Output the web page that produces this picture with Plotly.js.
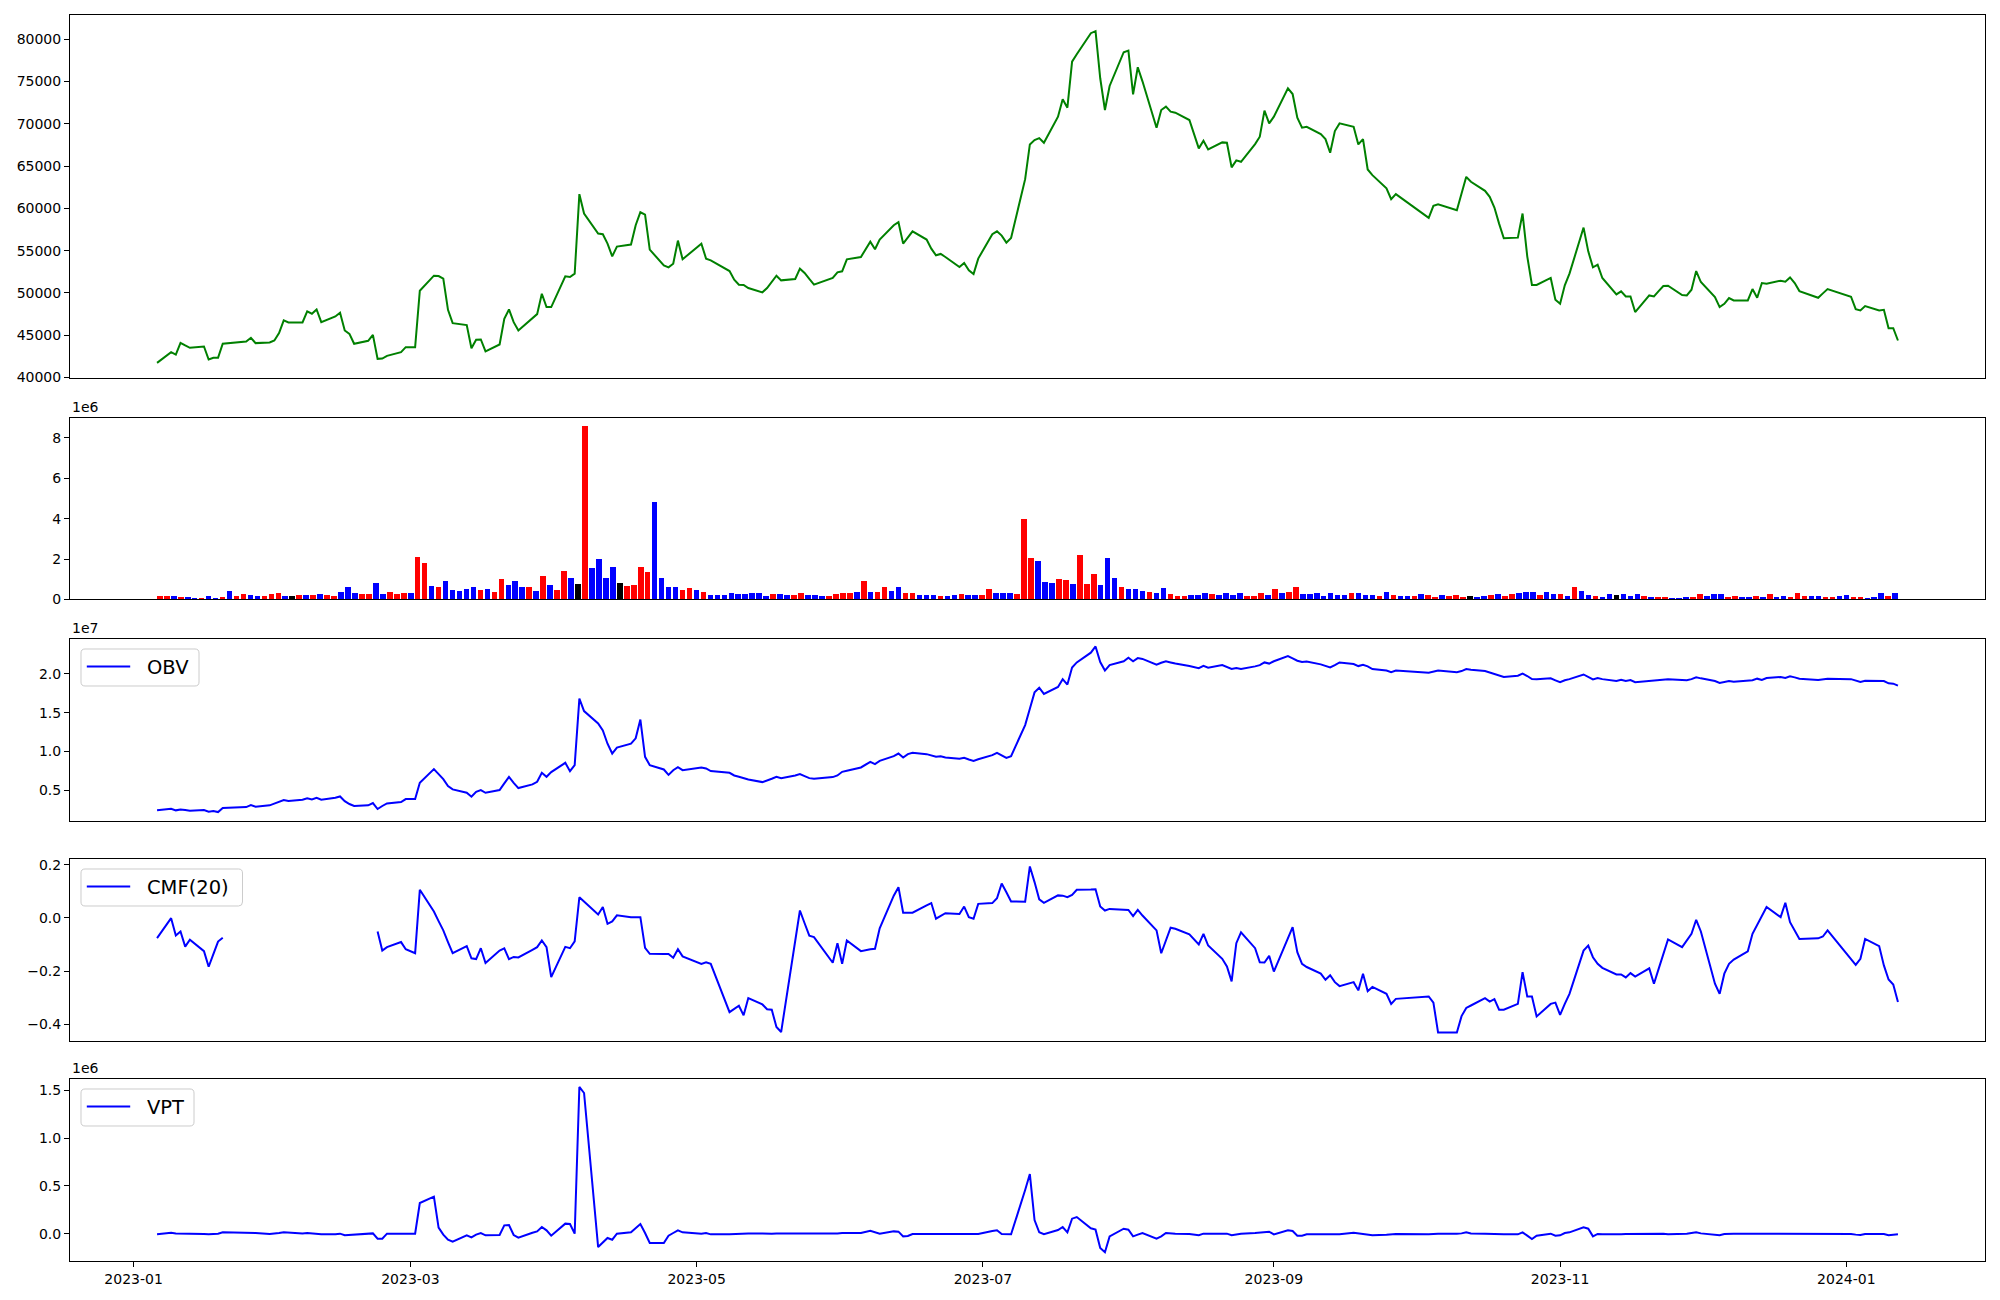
<!DOCTYPE html>
<html>
<head>
<meta charset="utf-8">
<script src="https://cdn.plot.ly/plotly-3.0.1.min.js"></script>
<style>html,body{margin:0;padding:0;background:#fff}#chart{width:2000px;height:1300px}</style>
</head>
<body>
<div id="chart"></div>
<script>
// Trading calendar (KRX): weekdays between first and last session, minus market holidays
const firstSession = "2023-01-06";
const lastSession = "2024-01-12";
const marketHolidays = ["2023-01-23","2023-01-24","2023-03-01","2023-05-01","2023-05-05","2023-05-29",
  "2023-06-06","2023-08-15","2023-09-28","2023-09-29","2023-10-02","2023-10-03","2023-10-09",
  "2023-12-25","2023-12-29","2024-01-01"];

// Close price
const closePrice = [
41730,43000,42720,44100,43790,43510,43670,42130,42330,42330,43990,
44260,44700,44070,44140,44380,
45250,46750,46510,46510,47820,47540,48050,46550,47220,47660,45560,45170,43990,44340,45050,42210,42250,42560,43000,43590,
43590,50260,52040,52000,51690,48010,46430,46200,43470,44460,44500,43080,43910,46950,48050,46550,45560,47060,47500,49910,48330,48330,
51960,51880,52280,61680,59390,57020,56940,55830,54330,55480,55720,58000,59540,59270,55120,53260,53030,53460,56190,53980,
55830,54060,53860,52590,51570,50980,50940,50580,50070,50580,51290,52040,51490,51650,52870,52360,51650,50980,51770,52440,
52560,53980,54250,56070,55160,56310,58000,58360,55830,56620,57290,56310,55240,54450,54610,54250,53070,53540,52670,52240,54060,
56940,57290,56780,55950,56500,63450,67560,68070,68310,67760,70840,72890,71900,77350,78220,80710,80950,75380,71630,74470,78460,
78660,73480,76680,75020,69540,71630,72020,71430,71310,70440,67090,67990,66970,67800,67760,64840,65670,65510,67600,68470,71550,70050,
70840,74200,73520,70720,69540,69650,68780,68190,66570,69140,70050,69650,67560,68190,64600,63930,62380,61090,61680,
58870,60290,60490,59780,61760,63730,63140,62070,61360,60100,58200,56460,56540,59390,54330,50940,50940,51770,49200,
48720,50900,52280,57730,54920,53030,53340,51770,49830,50190,49590,49590,47740,49710,49590,50220,50820,50860,49750,49710,50380,52590,
51290,49510,48330,48720,49400,49120,49120,50460,49430,51170,51090,51450,51330,51840,51170,50220,49430,49950,50460,
49550,48090,47930,48450,47930,48010,45840,45840,44380];

// Volume (x1e6)
const volumeM = [
0.165,0.165,0.165,0.115,0.115,0.066,0.066,0.165,0.066,0.115,0.41,
0.165,0.264,0.215,0.165,0.165,
0.264,0.31,0.165,0.165,0.215,0.215,0.215,0.264,0.215,0.165,0.36,0.61,0.31,0.264,0.264,0.81,0.264,0.36,0.264,0.31,
0.31,2.10,1.80,0.66,0.61,0.91,0.46,0.41,0.51,0.61,0.46,0.51,0.36,1.01,0.71,0.91,0.61,0.61,0.41,1.16,0.71,0.46,
1.40,1.06,0.76,8.58,1.55,2.0,1.06,1.60,0.81,0.66,0.71,1.60,1.35,4.82,1.06,0.61,0.61,0.46,0.56,0.46,
0.36,0.215,0.215,0.215,0.31,0.26,0.26,0.31,0.31,0.165,0.26,0.26,0.21,0.21,0.31,0.21,0.21,0.165,0.165,0.26,
0.31,0.31,0.36,0.91,0.36,0.36,0.61,0.41,0.61,0.31,0.31,0.21,0.21,0.21,0.165,0.165,0.21,0.26,0.21,0.21,0.21,
0.51,0.31,0.31,0.31,0.26,3.98,2.05,1.90,0.86,0.81,1.01,0.96,0.76,2.19,0.76,1.25,0.71,2.05,1.06,0.61,0.51,
0.51,0.41,0.36,0.31,0.56,0.26,0.165,0.165,0.21,0.21,0.31,0.26,0.21,0.31,0.21,0.31,0.165,0.165,0.31,0.21,0.51,0.31,
0.36,0.61,0.26,0.26,0.31,0.165,0.31,0.21,0.21,0.31,0.31,0.21,0.21,0.165,0.36,0.21,0.165,0.165,0.165,
0.26,0.21,0.115,0.21,0.165,0.21,0.115,0.165,0.115,0.165,0.21,0.26,0.165,0.26,0.31,0.36,0.36,0.21,0.36,
0.26,0.26,0.165,0.61,0.41,0.21,0.165,0.115,0.26,0.21,0.26,0.165,0.26,0.165,0.115,0.115,0.115,0.066,0.066,0.115,0.115,0.26,
0.165,0.26,0.26,0.115,0.165,0.115,0.115,0.165,0.115,0.26,0.115,0.165,0.115,0.31,0.165,0.165,0.165,0.115,0.115,
0.165,0.21,0.115,0.115,0.066,0.115,0.31,0.165,0.31];

// Candle direction per session: 1 = up (red), -1 = down (blue), 0 = unchanged (black)
const candleDir = [
1,1,-1,1,-1,-1,1,-1,-1,1,-1,
1,1,-1,-1,1,
1,1,-1,0,1,-1,1,-1,1,1,-1,-1,-1,1,1,-1,-1,1,1,1,
-1,1,1,-1,1,-1,-1,-1,-1,-1,1,-1,1,1,-1,-1,-1,1,-1,1,-1,1,
1,-1,0,1,-1,-1,-1,-1,0,1,1,1,1,-1,-1,-1,-1,1,1,-1,
1,-1,-1,-1,-1,-1,-1,-1,-1,-1,1,-1,-1,1,1,-1,-1,-1,1,1,
1,1,-1,1,-1,1,1,-1,-1,1,1,-1,-1,-1,1,-1,-1,1,-1,-1,1,
1,-1,-1,-1,1,1,1,-1,-1,-1,1,1,-1,1,1,1,-1,-1,-1,1,-1,
-1,-1,1,-1,-1,1,1,1,-1,-1,-1,1,-1,-1,-1,-1,1,1,1,-1,1,-1,
1,1,-1,-1,-1,-1,-1,-1,-1,1,-1,-1,-1,1,-1,1,-1,-1,1,
-1,1,1,-1,1,1,1,0,-1,-1,1,-1,1,1,-1,-1,-1,1,-1,
-1,1,-1,1,-1,-1,1,-1,-1,0,-1,-1,-1,1,-1,1,1,-1,-1,-1,1,1,
-1,-1,-1,1,1,-1,-1,1,-1,1,-1,-1,1,1,1,-1,-1,1,1,
-1,-1,1,1,-1,-1,-1,1,-1];

// On-Balance Volume (x1e7)
const obvE7 = [
0.244,0.265,0.244,0.256,0.248,0.239,0.248,0.226,0.235,0.222,0.274,
0.286,0.312,0.291,0.308,0.333,
0.35,0.376,0.363,0.38,0.40,0.385,0.406,0.38,0.406,0.423,0.363,0.325,0.30,0.308,0.338,0.261,0.30,0.333,0.35,0.389,
0.389,0.598,0.774,0.709,0.645,0.556,0.513,0.47,0.419,0.483,0.504,0.47,0.504,0.59,0.675,0.598,0.53,0.577,0.611,0.726,0.675,0.735,
0.855,0.748,0.825,1.68,1.52,1.36,1.27,1.10,0.974,1.05,1.10,1.17,1.41,0.932,0.825,0.769,0.70,0.76,0.80,0.76,
0.795,0.782,0.748,0.726,0.692,0.675,0.658,0.641,0.607,0.624,0.65,0.675,0.658,0.692,0.709,0.684,0.658,0.65,0.671,0.692,
0.739,0.752,0.795,0.868,0.838,0.88,0.94,0.974,0.923,0.966,0.983,0.966,0.949,0.932,0.94,0.923,0.906,0.919,0.897,0.88,0.90,
0.953,0.983,0.951,0.917,0.94,1.34,1.55,1.76,1.82,1.74,1.83,1.93,1.86,2.08,2.145,2.27,2.35,2.15,2.04,2.11,2.16,
2.205,2.16,2.20,2.19,2.115,2.14,2.16,2.145,2.13,2.10,2.07,2.10,2.077,2.11,2.09,2.06,2.073,2.06,2.094,2.11,2.145,2.13,
2.16,2.226,2.197,2.167,2.15,2.158,2.12,2.10,2.08,2.11,2.145,2.124,2.098,2.115,2.094,2.06,2.04,2.02,2.04,
2.013,2.026,2.04,2.02,2.034,2.06,2.05,2.034,2.017,1.996,1.98,1.957,1.974,2.0,1.97,1.93,1.927,1.94,1.915,
1.89,1.915,1.93,1.99,1.957,1.927,1.944,1.93,1.906,1.923,1.906,1.919,1.89,1.906,1.91,1.91,1.919,1.927,1.919,1.915,1.93,1.953,
1.94,1.906,1.88,1.893,1.906,1.897,1.91,1.915,1.936,1.919,1.944,1.957,1.944,1.966,1.953,1.936,1.919,1.927,1.936,
1.93,1.91,1.893,1.91,1.91,1.906,1.876,1.872,1.846];

// Chaikin Money Flow, 20 sessions (null = not defined)
const cmf20 = [
-0.076,-0.001,-0.066,-0.051,-0.108,-0.082,-0.125,-0.184,-0.136,-0.089,-0.075,
null,null,null,null,null,
null,null,null,null,null,null,null,null,null,null,null,null,null,null,null,-0.051,-0.123,-0.11,-0.091,-0.118,
-0.133,0.106,0.024,-0.012,-0.047,-0.091,-0.133,-0.106,-0.152,-0.155,-0.114,-0.17,-0.123,-0.115,-0.155,-0.147,-0.149,-0.12,-0.11,-0.085,-0.11,-0.223,
-0.109,-0.114,-0.088,0.078,0.062,0.013,0.041,-0.022,-0.013,0.01,0.003,0.003,0.003,-0.113,-0.135,-0.136,-0.136,-0.15,-0.118,-0.145,
-0.173,-0.167,-0.173,-0.355,-0.342,-0.331,-0.367,-0.302,-0.326,-0.344,-0.346,-0.411,-0.43,-0.087,0.028,-0.02,-0.067,-0.072,-0.169,-0.095,
-0.173,-0.085,-0.125,-0.118,-0.116,-0.039,0.084,0.116,0.02,0.02,0.02,0.047,0.056,-0.003,0.009,0.018,0.015,0.043,0.003,-0.003,0.053,
0.056,0.074,0.13,0.097,0.062,0.061,0.194,0.135,0.07,0.057,0.085,0.084,0.078,0.087,0.106,0.107,0.108,0.043,0.028,0.034,0.032,
0.03,0.007,0.03,0.009,-0.047,-0.133,-0.085,-0.037,-0.041,-0.062,-0.1,-0.06,-0.104,-0.154,-0.183,-0.239,-0.095,-0.054,-0.114,-0.167,-0.168,-0.143,
-0.202,-0.077,-0.035,-0.129,-0.173,-0.185,-0.21,-0.233,-0.216,-0.242,-0.257,-0.242,-0.273,-0.21,-0.276,-0.26,-0.286,-0.324,-0.305,
-0.296,-0.319,-0.432,-0.432,-0.37,-0.339,-0.33,-0.302,-0.315,-0.306,-0.346,-0.346,-0.324,-0.204,-0.296,-0.296,-0.371,-0.324,-0.319,
-0.365,-0.324,-0.286,-0.123,-0.104,-0.148,-0.173,-0.188,-0.213,-0.213,-0.224,-0.208,-0.221,-0.19,-0.248,-0.192,-0.135,-0.081,-0.11,-0.085,-0.06,-0.007,
-0.051,-0.248,-0.286,-0.21,-0.173,-0.157,-0.126,-0.06,-0.028,0.005,0.041,0.003,0.057,-0.016,-0.047,-0.079,-0.077,-0.07,-0.047,
-0.154,-0.177,-0.154,-0.079,-0.106,-0.179,-0.232,-0.251,-0.317];

// Volume Price Trend (x1e6)
const vptE6 = [
-0.007,0.01,0.003,0.003,0,0,-0.003,-0.007,-0.007,0,0.014,
0.014,0.014,0.007,-0.003,0,
0.007,0.014,0.01,0.003,0.007,0.003,0,-0.007,-0.007,0,-0.017,-0.014,-0.01,0,0.003,-0.052,-0.052,0,0,0,
0,0.321,0.387,0.063,-0.01,-0.063,-0.084,-0.017,-0.038,-0.01,0.007,-0.017,-0.014,0.087,0.091,-0.014,-0.042,0.01,0.024,0.07,0.035,-0.021,
0.105,0.101,0,1.535,1.472,-0.14,-0.087,-0.045,-0.063,0,0.014,0.056,0.101,0.007,-0.098,-0.098,-0.021,0.007,0.035,0.014,
0,0.007,-0.007,-0.007,-0.003,0,0,0.003,0.003,0,0,0.003,0.003,0,0.003,0,-0.003,0,0.003,0.003,
0.007,0.007,0.007,0.031,0.014,0,0.024,0.021,-0.028,-0.024,-0.003,-0.003,-0.003,0,0,-0.003,-0.003,0,0,-0.003,-0.003,
0.028,0.035,-0.003,-0.007,-0.007,0.457,0.624,0.143,0.015,-0.005,0.038,0.07,0.014,0.157,0.174,0.056,0.042,-0.15,-0.195,-0.028,0.052,
0.042,-0.028,-0.01,0.007,-0.052,-0.028,0.007,0,0,-0.003,-0.017,0,0,0,0,-0.017,-0.007,0,0.007,0.01,0.014,0.021,
-0.007,0.035,0.028,-0.021,-0.021,-0.007,-0.007,-0.007,-0.007,-0.007,-0.007,0.01,0.003,-0.007,-0.017,-0.017,-0.01,-0.007,-0.003,
-0.007,-0.003,0,0,0.003,0.014,0.003,0,-0.003,-0.003,-0.007,-0.007,-0.007,0.014,-0.021,-0.056,-0.021,0,-0.021,
-0.017,0.007,0.014,0.066,0.052,-0.028,-0.003,-0.007,-0.01,-0.007,-0.003,-0.003,0,0.003,0.003,0,0,-0.007,-0.007,0,0.007,0.014,
0.003,-0.01,-0.017,-0.003,0,0,0,0,0,0,-0.003,-0.003,-0.007,-0.007,-0.007,-0.007,-0.003,-0.003,-0.003,
-0.003,-0.01,-0.014,-0.003,-0.003,-0.003,-0.017,-0.014,-0.007];

// Legend labels and offset labels
const legendLabels = ["OBV", "CMF(20)", "VPT"];
const offsetLabels = ["1e6", "1e7", "1e6"];

// ---- build session dates ----
const sessionDates = [];
(function(){
  const p0 = firstSession.split("-").map(Number), p1 = lastSession.split("-").map(Number);
  const t0 = Date.UTC(p0[0], p0[1]-1, p0[2]), t1 = Date.UTC(p1[0], p1[1]-1, p1[2]);
  for (let t = t0; t <= t1; t += 86400000) {
    const d = new Date(t), wd = d.getUTCDay();
    if (wd === 0 || wd === 6) continue;
    const s = d.toISOString().slice(0,10);
    if (marketHolidays.indexOf(s) >= 0) continue;
    sessionDates.push(s);
  }
})();
// volume panel is drawn against the session number (evenly spaced bars)
const sessionIndex = volumeM.map((_, i) => i);
const nBars = volumeM.length;
const barW = 0.8;
const barSpan = (nBars - 1) + barW;
const barRange = [-barW/2 - 0.05*barSpan, (nBars - 1) + barW/2 + 0.05*barSpan];

const dirColor = v => v > 0 ? "red" : (v < 0 ? "blue" : "black");
const FONT = "DejaVu Sans, Liberation Sans, sans-serif";
const DAY = 86400000;
const xRange = [new Date(Date.UTC(2023,0,6) - 18.55*DAY).toISOString(), new Date(Date.UTC(2024,0,12) + 18.55*DAY).toISOString()];

const traces = [
  {x: sessionDates, y: closePrice, type: "scatter", mode: "lines", line: {color: "green", width: 2}, xaxis: "x", yaxis: "y", showlegend: false, name: "Close"},
  {x: sessionIndex, y: volumeM, type: "bar", marker: {color: candleDir.map(dirColor), line: {width: 0}}, width: barW, xaxis: "x2", yaxis: "y2", showlegend: false, name: "Volume"},
  {x: sessionDates, y: obvE7, type: "scatter", mode: "lines", line: {color: "blue", width: 2}, xaxis: "x3", yaxis: "y3", showlegend: false, name: legendLabels[0]},
  {x: sessionDates, y: cmf20, type: "scatter", mode: "lines", line: {color: "blue", width: 2}, connectgaps: false, xaxis: "x4", yaxis: "y4", showlegend: false, name: legendLabels[1]},
  {x: sessionDates, y: vptE6, type: "scatter", mode: "lines", line: {color: "blue", width: 2}, xaxis: "x5", yaxis: "y5", showlegend: false, name: legendLabels[2]}
];

function xa(anchor, showLabels) {
  const a = {anchor: anchor, type: "date", range: xRange, showgrid: false, zeroline: false,
    showline: true, mirror: true, linecolor: "black", linewidth: 1, automargin: false, fixedrange: true};
  if (showLabels) {
    Object.assign(a, {tickformat: "%Y-%m", dtick: "M2", tick0: "2023-01-01", ticks: "outside", ticklen: 5, tickwidth: 1,
      tickcolor: "black", showticklabels: true, tickfont: {family: FONT, size: 14, color: "black"}});
  } else {
    Object.assign(a, {showticklabels: false, ticks: ""});
  }
  return a;
}
function ya(anchor, domain, range, tickvals, fmt) {
  return {anchor: anchor, domain: domain, range: range, tickvals: tickvals, tickformat: fmt,
    ticks: "outside", ticklen: 5, tickwidth: 1, tickcolor: "black", showgrid: false, zeroline: false,
    showline: true, mirror: true, linecolor: "black", linewidth: 1, automargin: false, fixedrange: true,
    tickfont: {family: FONT, size: 14, color: "black"}};
}

// pixel -> paper helpers (plot area: x 70..1985, y 15..1261)
const PL = 70, PW = 1915, PB = 1261, PH = 1246;
const px = v => (v - PL) / PW;
const py = v => (PB - v) / PH;

function roundRectPath(x0, y0, x1, y1, r) {
  const P = (x, y) => px(x).toFixed(6) + "," + py(y).toFixed(6);
  return "M" + P(x0 + r, y0) + " L" + P(x1 - r, y0) + " Q" + P(x1, y0) + " " + P(x1, y0 + r) +
    " L" + P(x1, y1 - r) + " Q" + P(x1, y1) + " " + P(x1 - r, y1) +
    " L" + P(x0 + r, y1) + " Q" + P(x0, y1) + " " + P(x0, y1 - r) +
    " L" + P(x0, y0 + r) + " Q" + P(x0, y0) + " " + P(x0 + r, y0) + " Z";
}

// legend boxes (pixel geometry): [top, bottom, right]
const legendBoxes = [[649, 686, 199], [869, 906, 242.5], [1089, 1126, 194]];
const shapes = [], annotations = [];
legendBoxes.forEach((b, i) => {
  const cy = (b[0] + b[1]) / 2;
  shapes.push({type: "path", xref: "paper", yref: "paper", layer: "above",
    path: roundRectPath(81, b[0], b[2], b[1], 4),
    line: {color: "#cccccc", width: 1}, fillcolor: "rgba(255,255,255,0.8)"});
  shapes.push({type: "line", xref: "paper", yref: "paper", layer: "above",
    x0: px(86.8), x1: px(130.2), y0: py(cy - 1), y1: py(cy - 1), line: {color: "blue", width: 2}});
  annotations.push({text: legendLabels[i], xref: "paper", yref: "paper", x: px(144.5), y: py(cy), xanchor: "left", yanchor: "middle",
    showarrow: false, font: {family: FONT, size: 19.5, color: "black"}});
});

const D1 = [0.7087, 1.0], D2 = [0.5309, 0.6763], D3 = [0.3535, 0.4994], D4 = [0.1763, 0.3224], D5 = [0.0, 0.1461];
[D2, D3, D5].forEach((d, i) => {
  annotations.push({text: offsetLabels[i], xref: "paper", yref: "paper", x: 0, y: d[1], xanchor: "left", yanchor: "bottom",
    yshift: 1, showarrow: false, font: {family: FONT, size: 14, color: "black"}});
});

const xaxis2 = {anchor: "y2", type: "linear", range: barRange, showgrid: false, zeroline: false, showticklabels: false, ticks: "",
  showline: true, mirror: true, linecolor: "black", linewidth: 1, automargin: false, fixedrange: true};

const layout = {
  width: 2000, height: 1300,
  margin: {l: 70, r: 15, t: 15, b: 39, pad: 0},
  paper_bgcolor: "white", plot_bgcolor: "white",
  font: {family: FONT, size: 14, color: "black"},
  bargap: 0,
  showlegend: false,
  xaxis: xa("y", false), xaxis2: xaxis2, xaxis3: xa("y3", false), xaxis4: xa("y4", false), xaxis5: xa("y5", true),
  yaxis: ya("x", D1, [39950, 82860], [40000,45000,50000,55000,60000,65000,70000,75000,80000], "d"),
  yaxis2: ya("x2", D2, [0, 8.96], [0,2,4,6,8], "d"),
  yaxis3: ya("x3", D3, [0.113, 2.449], [0.5,1.0,1.5,2.0], ".1f"),
  yaxis4: ya("x4", D4, [-0.465, 0.221], [-0.4,-0.2,0.0,0.2], ".1f"),
  yaxis5: ya("x5", D5, [-0.286, 1.619], [0.0,0.5,1.0,1.5], ".1f"),
  shapes: shapes,
  annotations: annotations
};

Plotly.newPlot("chart", traces, layout, {displayModeBar: false, staticPlot: true});
</script>
</body>
</html>
